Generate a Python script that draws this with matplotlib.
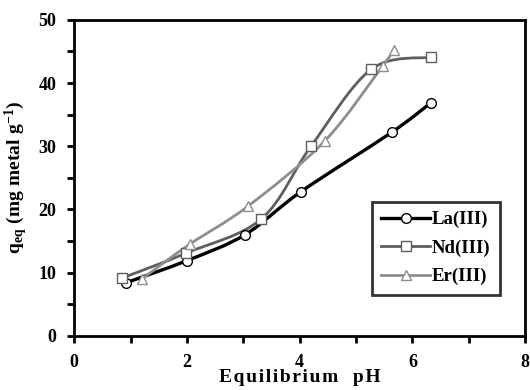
import matplotlib
matplotlib.use("Agg")
import matplotlib.pyplot as plt
import numpy as np
from matplotlib.path import Path
from matplotlib.patches import PathPatch
from matplotlib.lines import Line2D
from matplotlib.ticker import MultipleLocator

plt.rcParams['font.family'] = ['Liberation Serif', 'DejaVu Serif']
plt.rcParams['font.weight'] = 'bold'
plt.rcParams['axes.labelweight'] = 'bold'
plt.rcParams['mathtext.fontset'] = 'custom'
plt.rcParams['mathtext.rm'] = 'Liberation Serif:bold'
plt.rcParams['mathtext.it'] = 'Liberation Serif:bold'
plt.rcParams['mathtext.bf'] = 'Liberation Serif:bold'

# datos
ph_la = [0.92, 2.0, 3.03, 4.02, 5.63, 6.33]
q_la = [8.4, 11.9, 16.0, 22.8, 32.2, 36.9]

ph_nd = [0.84, 1.99, 3.32, 4.2, 5.27, 6.33]
q_nd = [9.1, 13.1, 18.5, 30.0, 42.2, 44.1]

ph_er = [1.2, 2.05, 3.08, 4.44, 5.47, 5.67]
q_er = [9.0, 14.5, 20.5, 30.8, 42.7, 45.3]

etiquetas = ["La(III)", "Nd(III)", "Er(III)"]
colores = ["#000000", "#5e5e5e", "#8e8e8e"]
marcadores = ["o", "s", "^"]
anchos = [2.4, 2.0, 2.0]


def linea_suave(ax, x, y, color, lw=2.0):
    # curva tipo "smooth line" de Excel (Catmull-Rom -> Bezier)
    p = np.column_stack([x, y])
    n = len(p)
    verts = [p[0]]
    codes = [Path.MOVETO]
    for i in range(n - 1):
        p0 = p[i - 1] if i > 0 else p[i]
        p3 = p[i + 2] if i + 2 < n else p[i + 1]
        c1 = p[i] + (p[i + 1] - p0) / 6
        c2 = p[i + 1] - (p3 - p[i]) / 6
        verts += [c1, c2, p[i + 1]]
        codes += [Path.CURVE4] * 3
    ax.add_patch(PathPatch(Path(verts, codes), facecolor="none", edgecolor=color, lw=lw, zorder=3))


fig = plt.figure(figsize=(5.3, 3.9), dpi=100)
ax = fig.add_axes([0.14, 0.139, 0.851, 0.81])

series = [(ph_la, q_la), (ph_nd, q_nd), (ph_er, q_er)]
handles = []
for (x, y), lab, c, m, lw in zip(series, etiquetas, colores, marcadores, anchos):
    linea_suave(ax, x, y, c, lw)
    ax.plot(x, y, linestyle="none", marker=m, markersize=7, markerfacecolor="white",
            markeredgecolor=c, markeredgewidth=1.0, zorder=4)
    handles.append(Line2D([], [], color=c, lw=lw, marker=m, markersize=7,
                          markerfacecolor="white", markeredgecolor=c, markeredgewidth=1.0))

ax.set_xlim(0, 8)
ax.set_ylim(0, 50)
ax.xaxis.set_major_locator(MultipleLocator(2))
ax.xaxis.set_minor_locator(MultipleLocator(1))
ax.yaxis.set_major_locator(MultipleLocator(10))
ax.yaxis.set_minor_locator(MultipleLocator(5))
ax.tick_params(which="both", direction="out", width=2, length=5, labelsize=13)
ax.tick_params(axis="x", pad=8)
ax.tick_params(axis="y", pad=8)
for s in ax.spines.values():
    s.set_linewidth(2)

xlab = "\u200a".join("Equilibrium") + "   " + "\u200a".join("pH")
ax.set_xlabel(xlab, fontsize=14, fontweight="bold", labelpad=-1)
ax.set_ylabel(r"$\mathbf{q_{eq}\ (mg\ metal\ g^{-1})}$", fontsize=14, labelpad=6)

leg = ax.legend(handles, etiquetas, loc="lower right", bbox_to_anchor=(0.965, 0.1),
                fontsize=13.5, frameon=True, fancybox=False, handlelength=2.6,
                handletextpad=0.1, labelspacing=0.6, borderpad=0.5)
leg.get_frame().set_edgecolor("black")
leg.get_frame().set_linewidth(2)

fig.savefig("out.png", dpi=100)
